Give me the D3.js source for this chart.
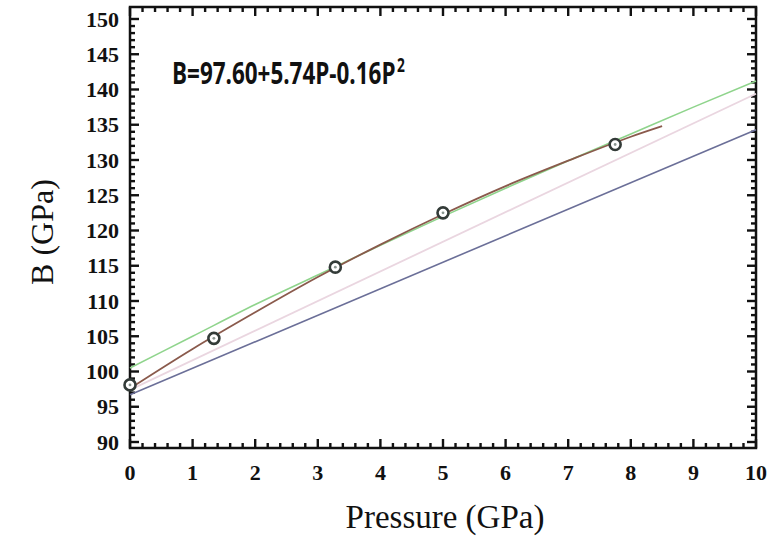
<!DOCTYPE html>
<html>
<head>
<meta charset="utf-8">
<script src="https://cdn.jsdelivr.net/npm/d3@7"></script>
<style>
  body { margin: 0; background: #fff; }
  svg { display: block; }
</style>
</head>
<body>
<script>
// measured points (P in GPa, B in GPa)
const pointP = [0, 1.34, 3.28, 5.0, 7.75];
const pointB = [98.1, 104.7, 114.8, 122.5, 132.2];

// fitted curve B = 97.60 + 5.74P - 0.16P^2
const fitP = [0, 1, 2, 3, 4, 5, 6, 7, 8, 8.5];
const fitB = [97.6, 103.2, 108.4, 113.4, 118.0, 122.3, 126.3, 129.9, 133.3, 134.8];

// other reference curves
const greenP = [0, 1, 2, 3, 4, 5, 6, 7, 8, 9, 10];
const greenB = [100.5, 105.0, 109.5, 113.7, 117.9, 122.0, 126.0, 129.9, 133.7, 137.5, 141.2];
const pinkP  = [0, 10];
const pinkB  = [97.4, 139.4];
const blueP  = [0, 10];
const blueB  = [96.7, 134.3];

const xTicks = [0, 1, 2, 3, 4, 5, 6, 7, 8, 9, 10];
const yTicks = [90, 95, 100, 105, 110, 115, 120, 125, 130, 135, 140, 145, 150];

const width  = 782;
const height = 540;

const svg = d3.select('body')
  .append('svg')
    .attr('width', width)
    .attr('height', height);

// plot frame
const pl = 130, pr = 756, pt = 7, pb = 448;

const x = d3.scaleLinear().domain([0, 10]).range([pl, pr]);
const y = d3.scaleLinear().domain([89.15, 151.7]).range([pb, pt]);

// minor tick values
const xMinor = d3.range(1, 50).filter((i) => i % 5 !== 0).map((i) => i / 5);
const yMinor = d3.range(90, 151).filter((v) => v % 5 !== 0);

const tickFont = '"Liberation Serif", "Times New Roman", serif';

// inward ticks on all four sides
const tickData = [
  ...xMinor.map((v) => ({ v, len: 5, axis: 'x' })),
  ...xTicks.map((v) => ({ v, len: 9, axis: 'x' })),
  ...yMinor.map((v) => ({ v, len: 5, axis: 'y' })),
  ...yTicks.map((v) => ({ v, len: 9, axis: 'y' }))
];

const tg = svg.append('g').attr('fill', '#111');
tg.selectAll('rect.tb')
  .data(tickData)
  .join('rect')
    .attr('class', 'tb')
    .attr('x', (d) => d.axis === 'x' ? x(d.v) - 1.2 : pl)
    .attr('y', (d) => d.axis === 'x' ? pb - d.len : y(d.v) - 1.2)
    .attr('width', (d) => d.axis === 'x' ? 2.4 : d.len)
    .attr('height', (d) => d.axis === 'x' ? d.len : 2.4);
tg.selectAll('rect.tt')
  .data(tickData)
  .join('rect')
    .attr('class', 'tt')
    .attr('x', (d) => d.axis === 'x' ? x(d.v) - 1.2 : pr - d.len)
    .attr('y', (d) => d.axis === 'x' ? pt : y(d.v) - 1.2)
    .attr('width', (d) => d.axis === 'x' ? 2.4 : d.len)
    .attr('height', (d) => d.axis === 'x' ? d.len : 2.4);

// frame
svg.append('rect')
  .attr('x', pl)
  .attr('y', pt)
  .attr('width', pr - pl)
  .attr('height', pb - pt)
  .attr('fill', 'none')
  .attr('stroke', '#111')
  .attr('stroke-width', 2.5);

// tick labels
svg.append('g')
  .selectAll('text')
  .data(xTicks)
  .join('text')
    .attr('x', (d) => x(d))
    .attr('y', pb + 32)
    .attr('text-anchor', 'middle')
    .attr('font-family', tickFont)
    .attr('font-weight', 'bold')
    .attr('font-size', 22)
    .attr('fill', '#111')
    .text((d) => d);

svg.append('g')
  .selectAll('text')
  .data(yTicks)
  .join('text')
    .attr('x', pl - 11)
    .attr('y', (d) => y(d))
    .attr('dy', '0.35em')
    .attr('text-anchor', 'end')
    .attr('font-family', tickFont)
    .attr('font-weight', 'bold')
    .attr('font-size', 22)
    .attr('fill', '#111')
    .text((d) => d);

// lines
const line = d3.line()
  .x((d) => x(d[0]))
  .y((d) => y(d[1]))
  .curve(d3.curveMonotoneX);

const zip = (a, b) => a.map((v, i) => [v, b[i]]);

const series = [
  { data: zip(blueP,  blueB),  color: '#6b6f98', w: 1.6 },
  { data: zip(pinkP,  pinkB),  color: '#ead6e0', w: 1.8 },
  { data: zip(greenP, greenB), color: '#8fd48c', w: 1.6 },
  { data: zip(fitP,   fitB),   color: '#8a5a4c', w: 1.8 }
];

svg.append('g')
  .selectAll('path')
  .data(series)
  .join('path')
    .attr('d', (d) => line(d.data))
    .attr('fill', 'none')
    .attr('stroke', (d) => d.color)
    .attr('stroke-width', (d) => d.w);

// data points
const pts = svg.append('g')
  .selectAll('g')
  .data(zip(pointP, pointB))
  .join('g')
    .attr('transform', (d) => `translate(${x(d[0])},${y(d[1])})`);

pts.append('circle')
  .attr('r', 5.5)
  .attr('fill', '#fff')
  .attr('stroke', '#333b38')
  .attr('stroke-width', 2.6);

pts.append('circle')
  .attr('r', 1.4)
  .attr('fill', '#8a9690');

// equation, one text element squeezed horizontally to the reference width
const eq = svg.append('text')
  .attr('font-family', '"Open Sans", "Liberation Sans", sans-serif')
  .attr('font-weight', 'bold')
  .attr('font-size', 31)
  .attr('fill', '#111');
eq.append('tspan').text('B=97.60+5.74P-0.16P');
eq.append('tspan').attr('dx', 2).attr('dy', -12).attr('font-size', 19).text('2');

const eqW = eq.node().getBBox().width;
eq.attr('transform', `translate(172,84) scale(${233 / eqW},1)`);

// axis titles
svg.append('text')
  .attr('x', (pl + pr) / 2 + 2)
  .attr('y', 528)
  .attr('text-anchor', 'middle')
  .attr('font-family', tickFont)
  .attr('font-size', 33)
  .attr('fill', '#111')
  .text('Pressure (GPa)');

svg.append('text')
  .attr('transform', 'translate(53,232) rotate(-90)')
  .attr('text-anchor', 'middle')
  .attr('font-family', tickFont)
  .attr('font-size', 32)
  .attr('fill', '#111')
  .text('B (GPa)');
</script>
</body>
</html>
